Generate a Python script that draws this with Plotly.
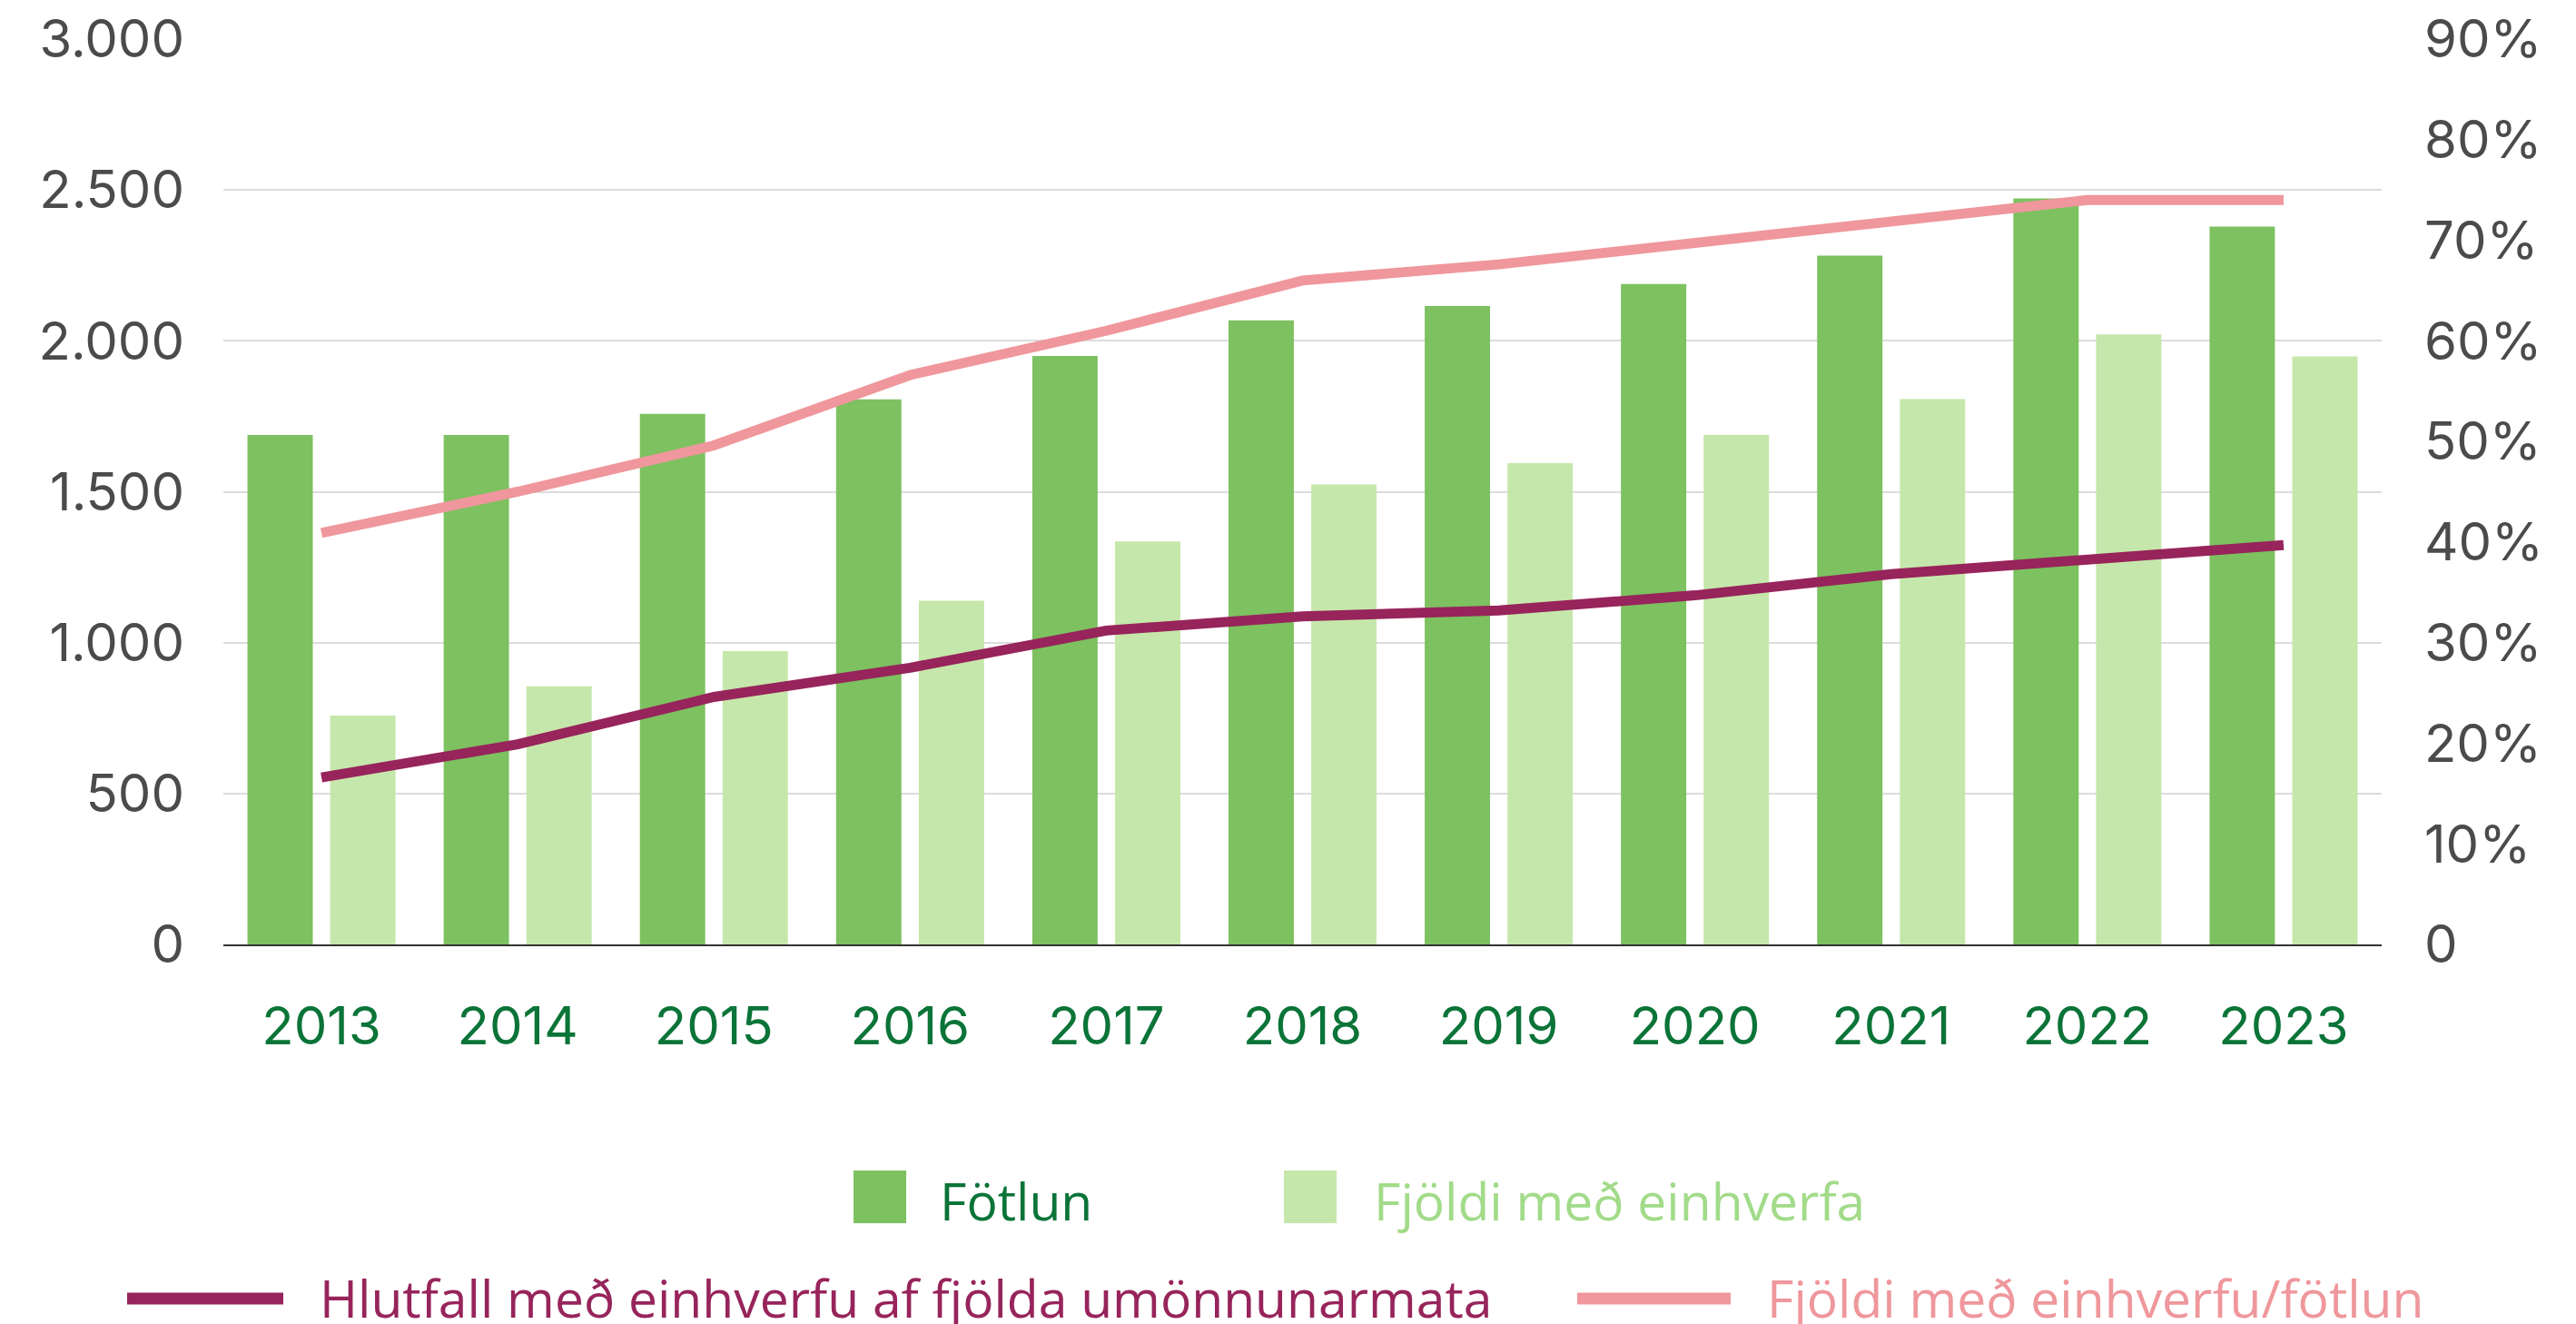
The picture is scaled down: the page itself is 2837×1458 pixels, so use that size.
import plotly.graph_objects as go

years = ["2013", "2014", "2015", "2016", "2017", "2018", "2019", "2020", "2021", "2022", "2023"]
fotlun = [1688, 1688, 1758, 1806, 1950, 2068, 2115, 2188, 2282, 2472, 2379]
einhverfa = [758, 855, 972, 1139, 1335, 1524, 1595, 1688, 1807, 2021, 1948]
hlutfall = [0.166, 0.199, 0.246, 0.275, 0.312, 0.326, 0.332, 0.347, 0.368, 0.383, 0.397]
hlutfall_fotlun = [0.409, 0.450, 0.496, 0.566, 0.610, 0.660, 0.676, 0.697, 0.718, 0.740, 0.740]

left_vals = [0, 500, 1000, 1500, 2000, 2500, 3000]
left_text = ["0", "500", "1.000", "1.500", "2.000", "2.500", "3.000"]
right_vals = [0, 0.1, 0.2, 0.3, 0.4, 0.5, 0.6, 0.7, 0.8, 0.9]
right_text = ["0", "10%", "20%", "30%", "40%", "50%", "60%", "70%", "80%", "90%"]

names = ["Fötlun", "Fjöldi með einhverfa",
         "Hlutfall með einhverfu af fjölda umönnunarmata", "Fjöldi með einhverfu/fötlun"]

C_DARK = "#7DC160"
C_LIGHT = "#C6E7AB"
C_PURPLE = "#97245B"
C_PINK = "#EF979C"
C_XTICK = "#0B7438"
C_TICK = "#4B4B4D"
C_LIGHT_TXT = "#A2DB89"

W, H = 2837, 1458
ML, MR, MT, MB = 246, 214, 43, 418
PW, PH = W - ML - MR, H - MT - MB


def px(x):
    return (x - ML) / PW


def py(y):
    return (H - MB - y) / PH


fig = go.Figure()
fig.add_trace(go.Bar(x=years, y=fotlun, name=names[0], marker=dict(color=C_DARK, line=dict(width=0)),
                     showlegend=False))
fig.add_trace(go.Bar(x=years, y=einhverfa, name=names[1], marker=dict(color=C_LIGHT, line=dict(width=0)),
                     showlegend=False))
fig.add_trace(go.Scatter(x=years, y=hlutfall, name=names[2], yaxis="y2", mode="lines",
                         line=dict(color=C_PURPLE, width=11), showlegend=False))
fig.add_trace(go.Scatter(x=years, y=hlutfall_fotlun, name=names[3], yaxis="y2", mode="lines",
                         line=dict(color=C_PINK, width=11), showlegend=False))

# Manual legend
shapes = [
    dict(type="rect", xref="paper", yref="paper", x0=px(940), x1=px(998), y0=py(1347), y1=py(1289),
         fillcolor=C_DARK, line=dict(width=0)),
    dict(type="rect", xref="paper", yref="paper", x0=px(1414), x1=px(1472), y0=py(1347), y1=py(1289),
         fillcolor=C_LIGHT, line=dict(width=0)),
    dict(type="line", xref="paper", yref="paper", x0=px(140), x1=px(312), y0=py(1430), y1=py(1430),
         line=dict(color=C_PURPLE, width=13)),
    dict(type="line", xref="paper", yref="paper", x0=px(1737), x1=px(1906), y0=py(1430), y1=py(1430),
         line=dict(color=C_PINK, width=13)),
]
legend_font = "Open Sans"
LS = 57
annotations = [
    dict(text=names[0], x=px(1033), y=py(1322), font=dict(color=C_XTICK)),
    dict(text=names[1], x=px(1511), y=py(1322), font=dict(color=C_LIGHT_TXT)),
    dict(text=names[2], x=px(350), y=py(1429), font=dict(color=C_PURPLE)),
    dict(text=names[3], x=px(1944), y=py(1429), font=dict(color=C_PINK)),
]
for a in annotations:
    a.update(xref="paper", yref="paper", xanchor="left", yanchor="middle", showarrow=False)
    a["font"].update(family=legend_font, size=LS)

TF = 58
fig.update_layout(
    width=W, height=H,
    margin=dict(l=ML, r=MR, t=MT, b=MB, autoexpand=False),
    paper_bgcolor="white", plot_bgcolor="white",
    barmode="group", bargap=0.157, bargroupgap=0.21,
    shapes=shapes, annotations=annotations,
    xaxis=dict(
        type="category", showline=True, linecolor="#333333", linewidth=2,
        showgrid=False, ticks="", ticklabelstandoff=38,
        tickfont=dict(family="Inter", size=TF, color=C_XTICK),
    ),
    yaxis=dict(
        range=[0, 3000], tickvals=left_vals, ticktext=left_text,
        showgrid=True, gridcolor="#DCDCDC", gridwidth=2, zeroline=False,
        showline=False, ticks="", ticklabelstandoff=42,
        tickfont=dict(family="Inter", size=TF, color=C_TICK),
    ),
    yaxis2=dict(
        range=[0, 0.9], tickvals=right_vals, ticktext=right_text, overlaying="y", side="right",
        showgrid=False, zeroline=False, showline=False, ticks="", ticklabelstandoff=46,
        tickfont=dict(family="Inter", size=TF, color=C_TICK),
    ),
)

fig.write_html("out.html", config={"displayModeBar": False},
               post_script="document.body.style.margin='0';document.body.style.overflow='hidden';")
